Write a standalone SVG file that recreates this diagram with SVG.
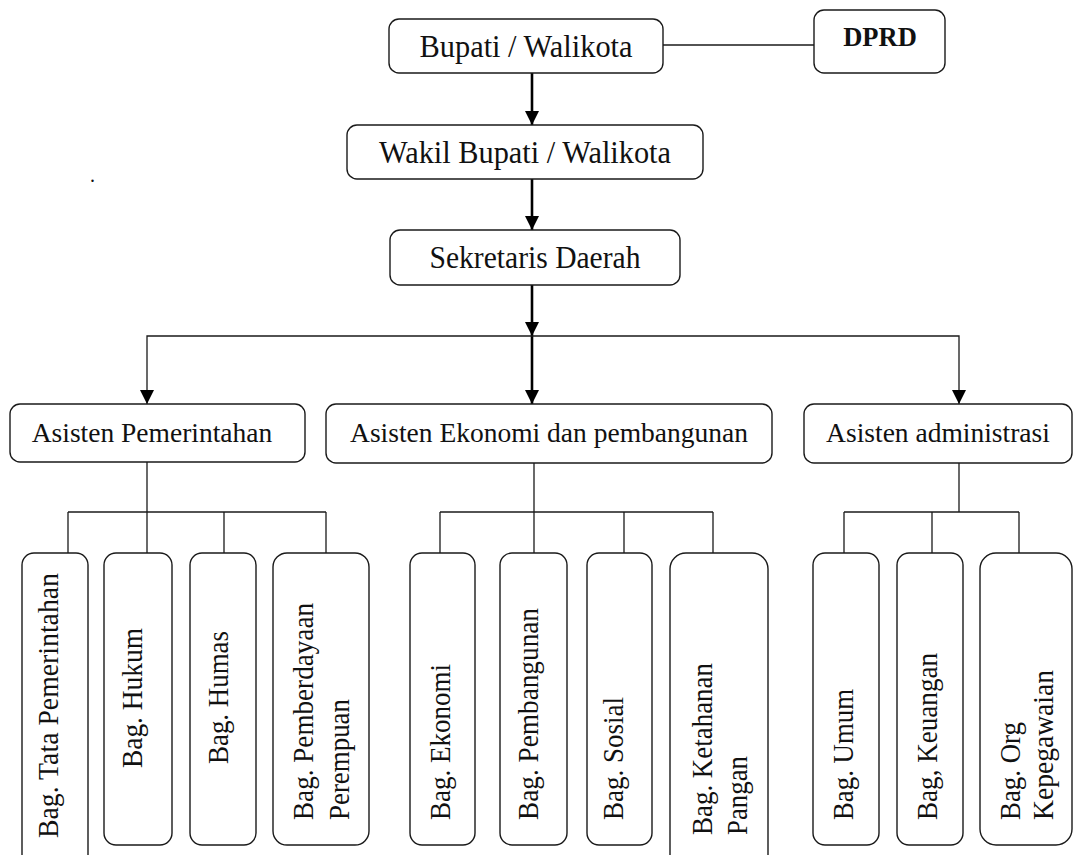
<svg xmlns="http://www.w3.org/2000/svg" width="1073" height="855" viewBox="0 0 1073 855">
<style>
.box{fill:#fff;stroke:#1a1a1a;stroke-width:1.4}
.t{font-family:"Liberation Serif","Times New Roman",serif;fill:#111}
.top{font-size:32px;text-anchor:middle}
.ast{font-size:27.5px;text-anchor:middle}
.rot{font-size:30px}
.thin{fill:none;stroke:#1a1a1a;stroke-width:1.3}
.thick{fill:none;stroke:#000;stroke-width:2.6}
</style>
<defs>
<marker id="ah" markerWidth="14" markerHeight="14" viewBox="0 0 14 14" refX="14" refY="7" orient="auto" markerUnits="userSpaceOnUse">
<path d="M0,0 L14,7 L0,14 Z" fill="#000"/>
</marker>
</defs>
<rect width="1073" height="855" fill="#fff"/>
<g id="connectors">
<line class="thin" x1="663" y1="45" x2="814" y2="45"/>
<line class="thick" x1="532" y1="73" x2="532" y2="125" marker-end="url(#ah)"/>
<line class="thick" x1="532" y1="179" x2="532" y2="230" marker-end="url(#ah)"/>
<line class="thick" x1="532" y1="285" x2="532" y2="336" marker-end="url(#ah)"/>
<line class="thick" x1="532" y1="336" x2="532" y2="404" marker-end="url(#ah)"/>
<polyline class="thin" points="532,336 147,336 147,404" marker-end="url(#ah)"/>
<polyline class="thin" points="532,336 959,336 959,404" marker-end="url(#ah)"/>
<line class="thin" x1="147" y1="462" x2="147" y2="553"/>
<line class="thin" x1="68" y1="512" x2="326" y2="512"/>
<line class="thin" x1="68" y1="512" x2="68" y2="553"/>
<line class="thin" x1="224" y1="512" x2="224" y2="553"/>
<line class="thin" x1="326" y1="512" x2="326" y2="553"/>
<line class="thin" x1="534" y1="463" x2="534" y2="553"/>
<line class="thin" x1="440" y1="512" x2="713" y2="512"/>
<line class="thin" x1="440" y1="512" x2="440" y2="553"/>
<line class="thin" x1="624" y1="512" x2="624" y2="553"/>
<line class="thin" x1="713" y1="512" x2="713" y2="553"/>
<line class="thin" x1="959" y1="463" x2="959" y2="512"/>
<line class="thin" x1="844" y1="512" x2="1019" y2="512"/>
<line class="thin" x1="844" y1="512" x2="844" y2="553"/>
<line class="thin" x1="932" y1="512" x2="932" y2="553"/>
<line class="thin" x1="1019" y1="512" x2="1019" y2="553"/>
</g>
<g id="bupati"><rect class="box" x="389" y="19" width="274" height="54" rx="10"/><text class="t top" x="526" y="57" textLength="213" lengthAdjust="spacingAndGlyphs">Bupati / Walikota</text></g>
<g id="dprd"><rect class="box" x="814" y="10" width="131" height="63" rx="10"/><text class="t" x="880" y="46" font-size="26.5" font-weight="bold" text-anchor="middle">DPRD</text></g>
<g id="wakil"><rect class="box" x="347" y="125" width="356" height="54" rx="10"/><text class="t top" x="525" y="163" textLength="292" lengthAdjust="spacingAndGlyphs">Wakil Bupati / Walikota</text></g>
<g id="sekda"><rect class="box" x="390" y="230" width="290" height="55" rx="10"/><text class="t top" x="535" y="268" textLength="211" lengthAdjust="spacingAndGlyphs">Sekretaris Daerah</text></g>
<text class="t" x="90" y="182" font-size="20">.</text>
<g id="as-pem"><rect class="box" x="10" y="404" width="295" height="58" rx="10"/><text class="t ast" x="152" y="442">Asisten Pemerintahan</text></g>
<g id="as-eko"><rect class="box" x="326" y="404" width="446" height="59" rx="10"/><text class="t ast" x="549" y="442">Asisten Ekonomi dan pembangunan</text></g>
<g id="as-adm"><rect class="box" x="804" y="404" width="268" height="59" rx="10"/><text class="t ast" x="938" y="442">Asisten administrasi</text></g>
<g id="bag-tata"><rect class="box" x="22" y="553" width="66" height="320" rx="12"/><text class="t rot" transform="translate(58,838) rotate(-90)" textLength="265" lengthAdjust="spacingAndGlyphs">Bag. Tata Pemerintahan</text></g>
<g id="bag-hukum"><rect class="box" x="104" y="553" width="68" height="292" rx="12"/><text class="t rot" transform="translate(142,768) rotate(-90)" textLength="140" lengthAdjust="spacingAndGlyphs">Bag. Hukum</text></g>
<g id="bag-humas"><rect class="box" x="190" y="553" width="66" height="292" rx="12"/><text class="t rot" transform="translate(228,764) rotate(-90)" textLength="133" lengthAdjust="spacingAndGlyphs">Bag. Humas</text></g>
<g id="bag-pemberdayaan"><rect class="box" x="273" y="553" width="96" height="292" rx="14"/><text class="t rot" transform="translate(313,820) rotate(-90)" textLength="217" lengthAdjust="spacingAndGlyphs">Bag. Pemberdayaan</text><text class="t rot" transform="translate(349,820) rotate(-90)" textLength="121" lengthAdjust="spacingAndGlyphs">Perempuan</text></g>
<g id="bag-ekonomi"><rect class="box" x="410" y="553" width="65" height="292" rx="12"/><text class="t rot" transform="translate(450,820) rotate(-90)" textLength="156" lengthAdjust="spacingAndGlyphs">Bag. Ekonomi</text></g>
<g id="bag-pembangunan"><rect class="box" x="500" y="553" width="67" height="292" rx="12"/><text class="t rot" transform="translate(538,820) rotate(-90)" textLength="212" lengthAdjust="spacingAndGlyphs">Bag. Pembangunan</text></g>
<g id="bag-sosial"><rect class="box" x="587" y="553" width="65" height="292" rx="12"/><text class="t rot" transform="translate(623,820) rotate(-90)" textLength="123" lengthAdjust="spacingAndGlyphs">Bag. Sosial</text></g>
<g id="bag-ketahanan"><rect class="box" x="670" y="553" width="98" height="320" rx="16"/><text class="t rot" transform="translate(712,835) rotate(-90)" textLength="172" lengthAdjust="spacingAndGlyphs">Bag. Ketahanan</text><text class="t rot" transform="translate(747,835) rotate(-90)" textLength="79" lengthAdjust="spacingAndGlyphs">Pangan</text></g>
<g id="bag-umum"><rect class="box" x="813" y="553" width="66" height="292" rx="12"/><text class="t rot" transform="translate(853,820) rotate(-90)" textLength="131" lengthAdjust="spacingAndGlyphs">Bag. Umum</text></g>
<g id="bag-keuangan"><rect class="box" x="897" y="553" width="66" height="292" rx="12"/><text class="t rot" transform="translate(937,820) rotate(-90)" textLength="167" lengthAdjust="spacingAndGlyphs">Bag, Keuangan</text></g>
<g id="bag-org"><rect class="box" x="980" y="553" width="92" height="292" rx="16"/><text class="t rot" transform="translate(1020,820) rotate(-90)" textLength="98" lengthAdjust="spacingAndGlyphs">Bag. Org</text><text class="t rot" transform="translate(1053,820) rotate(-90)" textLength="150" lengthAdjust="spacingAndGlyphs">Kepegawaian</text></g>
</svg>
